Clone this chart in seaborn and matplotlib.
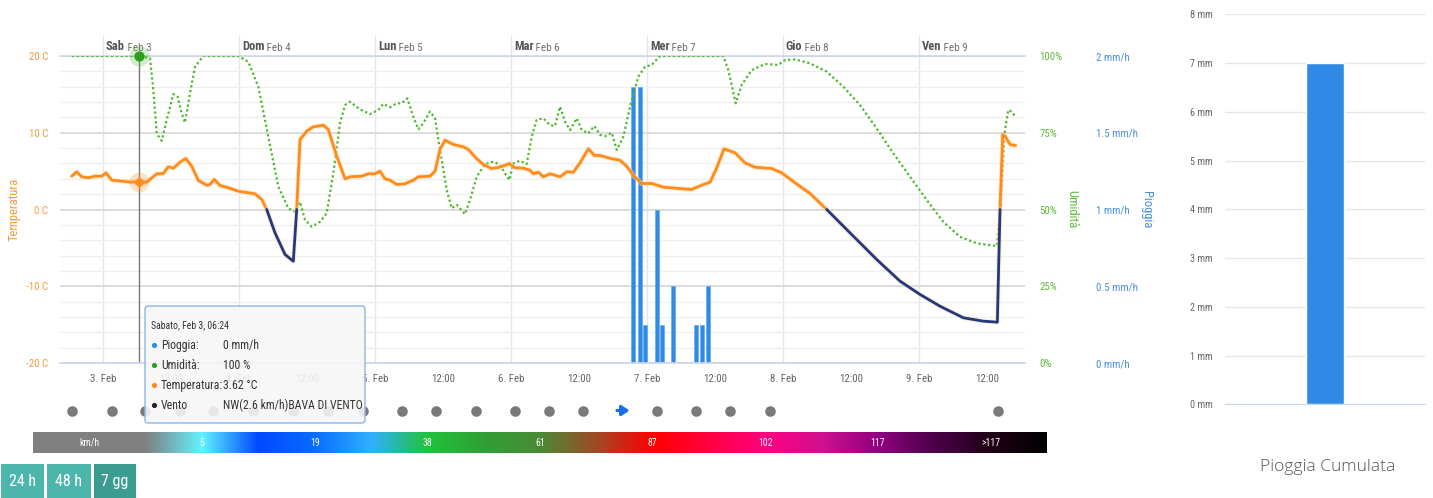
import matplotlib

matplotlib.use("Agg")

import matplotlib.pyplot as plt
import matplotlib.patheffects as pe
import numpy as np
import pandas as pd
import seaborn as sns
from matplotlib import font_manager
from matplotlib.colors import LinearSegmentedColormap
from matplotlib.patches import FancyBboxPatch, Rectangle
from matplotlib.ticker import MultipleLocator


# ore trascorse da Sabato 3 Feb 00:00
temp_ore = [
    -5.52, -4.64, -3.76, -2.59, -1.41, -0.23, 0.53, 1.54, 3.30, 5.06, 6.40,
    7.71, 9.48, 10.64, 11.52, 12.41, 13.59, 14.59, 15.65, 16.82, 18.30, 18.88,
    19.64, 20.65, 22.11, 23.88, 25.64, 26.82, 28.01, 28.89, 30.35, 32.12,
    33.58, 34.18, 34.76, 35.95, 37.11, 38.88, 39.76, 41.24, 42.71, 43.59,
    45.65, 46.82, 48.00, 48.88, 49.76, 50.65, 51.83, 53.29, 54.76, 55.64,
    57.70, 58.59, 59.47, 60.35, 61.82, 63.58, 64.46, 65.95, 67.11, 68.59,
    70.06, 71.70, 72.71, 74.17, 75.35, 75.94, 76.82, 77.70, 78.88, 80.65,
    81.83, 82.99, 84.18, 85.64, 86.70, 87.71, 89.77, 91.23, 92.42, 93.58,
    95.06, 96.83, 98.88, 101.52, 103.89, 105.65, 107.12, 108.30, 109.59,
    111.53, 113.29, 115.06, 118.00, 119.77, 122.12, 124.77, 127.71, 131.82,
    136.53, 140.65, 144.18, 147.70, 151.82, 155.35, 157.82, 158.29, 158.77,
    159.17, 160.06, 161.06,
]
temp_c = [
    4.34, 4.91, 4.26, 4.13, 4.34, 4.34, 4.78, 3.82, 3.69, 3.56, 3.62,
    3.56, 4.65, 4.69, 5.56, 5.38, 6.16, 6.64, 5.64, 3.78, 3.17, 3.26,
    3.91, 3.13, 2.83, 2.38, 2.18, 2.05, 1.30, 0.0, -3.04, -5.86,
    -6.74, 0.0, 9.12, 10.20, 10.78, 10.98, 10.42, 6.94, 4.00, 4.26,
    4.34, 4.65, 4.65, 4.99, 4.00, 3.82, 3.26, 3.35, 3.82, 4.26,
    4.34, 4.99, 7.82, 9.03, 8.47, 8.17, 7.82, 6.61, 5.86, 5.34,
    5.51, 5.99, 5.43, 5.38, 5.12, 4.65, 4.86, 4.26, 4.65, 4.26,
    4.91, 4.86, 6.08, 7.91, 7.04, 7.04, 6.61, 6.42, 5.64, 4.43,
    3.39, 3.39, 2.91, 2.74, 2.61, 3.17, 3.56, 5.43, 7.91,
    7.39, 6.08, 5.51, 5.34, 4.78, 3.48, 2.08, 0.0, -3.04,
    -6.51, -9.34, -11.07, -12.60, -14.11, -14.55, -14.68, 0.0, 9.77,
    9.55, 8.47, 8.34,
]

umid_ore = [
    -5.52, 6.23, 8.29, 8.88, 9.48, 10.36, 11.24, 12.41, 13.18, 13.89, 14.47,
    15.35, 16.24, 17.70, 23.88, 25.64, 27.41, 29.17, 30.94, 32.70, 33.88,
    34.76, 35.65, 36.83, 38.29, 39.48, 40.64, 41.82, 42.71, 43.59, 45.35,
    47.12, 48.58, 49.46, 50.65, 51.83, 52.71, 53.70, 54.76, 55.64, 56.52,
    57.70, 58.59, 59.47, 60.65, 61.53, 62.42, 63.88, 64.76, 65.95, 67.41,
    68.88, 70.06, 70.94, 71.70, 72.41, 73.59, 74.76, 75.65, 76.53, 77.70,
    78.88, 79.76, 80.65, 81.53, 82.41, 83.59, 84.48, 85.64, 86.70, 87.71,
    88.59, 89.77, 90.65, 91.82, 93.00, 94.47, 95.65, 96.83, 98.29, 109.47,
    110.35, 111.65, 112.71, 114.47, 116.82, 119.17, 120.35, 122.12, 124.77,
    127.71, 130.64, 133.58, 136.53, 139.46, 142.41, 145.35, 148.28, 151.23,
    154.18, 157.71, 158.29, 159.17, 159.76, 160.36, 161.06,
]
umid_pct = [
    100, 100, 99.3, 88.9, 74.8, 72.4, 79.2, 87.6, 86.7, 81.3, 78.3,
    87.9, 96.5, 100, 100, 98.1, 90.0, 73.7, 57.4, 50.4, 49.3,
    52.5, 46.6, 44.4, 46.0, 48.8, 61.8, 78.1, 84.0, 85.1, 82.6,
    81.1, 82.4, 84.4, 83.3, 84.6, 84.6, 86.2, 80.2, 76.1, 78.1,
    81.9, 79.7, 69.4, 56.4, 50.4, 51.5, 48.5, 53.1, 60.7, 64.8,
    65.6, 64.5, 61.8, 59.6, 65.0, 65.9, 64.8, 73.7, 79.2, 79.7,
    77.5, 77.2, 83.5, 78.6, 75.9, 79.7, 75.9, 74.8, 77.2, 74.3,
    73.9, 75.0, 69.4, 73.7, 83.5, 93.3, 96.5, 97.1, 100, 100,
    95.4, 84.6, 90.6, 95.4, 97.4, 97.1, 98.7, 98.9, 97.6,
    94.9, 90.0, 84.0, 76.4, 68.3, 60.7, 53.1, 46.0, 41.1,
    39.0, 38.1, 48.8, 75.9, 82.4, 81.9, 80.0,
]

pioggia_ore = [93.6, 94.7, 95.6, 97.8, 98.6, 100.6, 104.6, 105.7, 106.7]
pioggia_mmh = [1.8, 1.8, 0.25, 1.0, 0.25, 0.5, 0.25, 0.25, 0.5]

vento_ore = [
    -5.5, 1.5, 7.4, 13.6, 19.4, 26.5, 33.5, 39.7, 45.9, 52.7, 58.7,
    65.8, 72.7, 78.7, 84.7, 91.8, 97.7, 104.7, 110.7, 117.7, 157.9,
]
vento_dir = [
    "calma", "calma", "calma", "calma", "calma", "calma", "calma", "calma",
    "calma", "calma", "calma", "calma", "calma", "calma", "calma", "W",
    "calma", "calma", "calma", "calma", "calma",
]

giorni_ore = [0, 24, 48, 72, 96, 120, 144]
giorni_nome = ["Sab", "Dom", "Lun", "Mar", "Mer", "Gio", "Ven"]
giorni_data = ["Feb 3", "Feb 4", "Feb 5", "Feb 6", "Feb 7", "Feb 8", "Feb 9"]
giorni_basso = ["3. Feb", "4. Feb", "5. Feb", "6. Feb", "7. Feb", "8. Feb", "9. Feb"]
mezzogiorni_ore = [12, 36, 60, 84, 108, 132, 156]

temp_ticks = [-20, -10, 0, 10, 20]
umid_ticks = [0, 25, 50, 75, 100]
pioggia_ticks = [0, 0.5, 1, 1.5, 2]

scala_vento = ["km/h", "5", "19", "38", "61", "87", "102", "117", ">117"]
scala_pos = [0, 1.0, 1.5, 2.0, 2.5, 3.0, 3.5, 4.0, 4.5, 5.0, 5.5, 6.0, 6.5, 7.0, 7.5, 8.0, 8.5, 9.0]
scala_colori = [
    "#808080", "#808080", "#62f2ff", "#0048ff", "#0a6cff", "#30b0ff",
    "#20c23c", "#30a035", "#4a8a35", "#a04a25", "#ff0000", "#ff0040",
    "#ff0080", "#d01090", "#900080", "#4c004a", "#200015", "#000000",
]

cumulata_cat = ["Pioggia"]
cumulata_mm = [7]
cumulata_ticks = [0, 1, 2, 3, 4, 5, 6, 7, 8]

pulsanti = ["24 h", "48 h", "7 gg"]

tip_ora = 6.4
tip_titolo = "Sabato, Feb 3, 06:24"
tip_pioggia = 0
tip_umid = 100
tip_temp = 3.62
tip_vento = "NW(2.6 km/h)BAVA DI VENTO"

FIG_W, FIG_H = 1433, 498
ORANGE = "#ff8c1a"
ORANGE_TXT = "#f39a3c"
NAVY = "#1f3b7d"
GREEN = "#4cb82a"
GREEN_TXT = "#5fb83a"
BLUE = "#2f8ae6"
BLUE_TXT = "#4a8fe0"
AXIS = "#ccd6eb"
DAY_LINE = "#e4e6ee"


def pick_font(names):
    for name in names:
        try:
            font_manager.findfont(
                font_manager.FontProperties(family=name),
                fallback_to_default=False,
            )
            return name
        except ValueError:
            continue
    return "DejaVu Sans"


def px_rect(left, top, right, bottom):
    """Figure rectangle from pixel edges measured on the screenshot."""
    return [
        left / FIG_W,
        1 - bottom / FIG_H,
        (right - left) / FIG_W,
        (bottom - top) / FIG_H,
    ]


def split_zones(ore, valori):
    """Split the temperature line into runs above and below 0 C."""
    rows = []
    tratto = 0
    for i, (h, v) in enumerate(zip(ore, valori)):
        if v == 0 and 0 < i < len(ore) - 1:
            zona = "sopra" if valori[i - 1] > 0 else "sotto"
            rows.append((h, v, tratto, zona))
            tratto += 1
            zona = "sopra" if valori[i + 1] > 0 else "sotto"
            rows.append((h, v, tratto, zona))
        else:
            rows.append((h, v, tratto, "sopra" if v >= 0 else "sotto"))
    return pd.DataFrame(rows, columns=["ore", "gradi", "tratto", "zona"])


sns.set_style("white")
NARROW = pick_font(["Liberation Sans Narrow", "Roboto Condensed", "DejaVu Sans"])
plt.rcParams["font.family"] = [NARROW, "DejaVu Sans"]

fig = plt.figure(figsize=(FIG_W / 100, FIG_H / 100), dpi=100)

X_MIN, X_MAX = -7.59, 162.7

# --- main chart: rain (host, grid), humidity, temperature ---
ax_r = fig.add_axes(px_rect(60, 56, 1025, 363))
ax_h = ax_r.twinx()
ax_t = ax_r.twinx()
ax_r.set_zorder(1)
ax_h.set_zorder(2)
ax_t.set_zorder(3)
ax_h.patch.set_visible(False)
ax_t.patch.set_visible(False)
ax_r.xaxis.set_visible(True)

ax_r.bar(pioggia_ore, pioggia_mmh, width=0.7, color=BLUE,
         edgecolor="#5aa5ee", linewidth=0.4, zorder=2)
ax_r.axvline(tip_ora, color="#777777", lw=1, zorder=1.5)

ax_r.set_xlim(X_MIN, X_MAX)
ax_r.set_ylim(0, 2)
ax_r.set_xticks(giorni_ore)
ax_r.set_xticklabels(giorni_basso)
ax_r.set_xticks(mezzogiorni_ore, minor=True)
ax_r.set_xticklabels(["12:00"] * len(mezzogiorni_ore), minor=True)
ax_r.tick_params(axis="x", which="both", length=3.6, color=AXIS,
                 labelsize=7.8, labelcolor="#666666", pad=4)
ax_r.yaxis.tick_right()
ax_r.set_yticks(pioggia_ticks)
ax_r.set_yticklabels([f"{v:g} mm/h" for v in pioggia_ticks])
ax_r.yaxis.set_minor_locator(MultipleLocator(0.1))
ax_r.tick_params(axis="y", which="both", length=0, labelsize=7.8,
                 labelcolor=BLUE_TXT, pad=51)
ax_r.set_axisbelow(True)
ax_r.grid(axis="x", which="major", color=DAY_LINE, lw=1)
ax_r.grid(axis="y", which="major", color="#dcdcdc", lw=1.4)
ax_r.grid(axis="y", which="minor", color="#efefef", lw=0.9)
for side in ["left", "right"]:
    ax_r.spines[side].set_visible(False)
for side in ["top", "bottom"]:
    ax_r.spines[side].set_color(AXIS)
    ax_r.spines[side].set_linewidth(1.2)

# day lines run up past the top border, with the day names beside them
ax_top = ax_r.secondary_xaxis("top")
ax_top.set_xticks(giorni_ore)
ax_top.set_xticklabels([])
ax_top.tick_params(axis="x", length=15, width=1, color=DAY_LINE)
ax_top.spines["top"].set_visible(False)

for nome, data, ora in zip(giorni_nome, giorni_data, giorni_ore):
    t1 = ax_r.annotate(nome, xy=(ora, 1), xycoords=("data", "axes fraction"),
                       xytext=(2, 2.5), textcoords="offset points",
                       ha="left", va="bottom", fontsize=9, fontweight="bold",
                       color="#555555")
    ax_r.annotate(" " + data, xy=(1, 0), xycoords=t1, ha="left", va="bottom",
                  fontsize=8, color="#707070")

sns.lineplot(x=umid_ore, y=umid_pct, color=GREEN, lw=1.6,
             linestyle=(0, (1, 1.2)), ax=ax_h)
ax_h.scatter([tip_ora], [tip_umid], s=210, color=GREEN, alpha=0.25,
             lw=0, clip_on=False, zorder=4)
ax_h.scatter([tip_ora], [tip_umid], s=55, color="#2ca01c", lw=0,
             clip_on=False, zorder=5)
ax_h.set_ylim(0, 100)
ax_h.set_yticks(umid_ticks)
ax_h.set_yticklabels([f"{v}%" for v in umid_ticks])
ax_h.tick_params(axis="y", length=0, labelsize=7.8, labelcolor=GREEN_TXT,
                 pad=10.5)
ax_h.set_ylabel("")

temp_df = split_zones(temp_ore, temp_c)
sns.lineplot(data=temp_df, x="ore", y="gradi", hue="zona", units="tratto",
             estimator=None, sort=False, legend=False, lw=2,
             palette={"sopra": ORANGE, "sotto": NAVY}, ax=ax_t,
             path_effects=[pe.Stroke(linewidth=3.6, foreground="#ffd9b0",
                                     alpha=0.5), pe.Normal()])
ax_t.scatter([tip_ora], [tip_temp], s=210, color=ORANGE, alpha=0.25,
             lw=0, zorder=4)
ax_t.scatter([tip_ora], [tip_temp], s=32, marker="D", color=ORANGE, lw=0,
             zorder=5)
ax_t.set_ylim(-20, 20)
ax_t.yaxis.tick_left()
ax_t.set_yticks(temp_ticks)
ax_t.set_yticklabels([f"{v} C" for v in temp_ticks])
ax_t.tick_params(axis="y", length=0, labelsize=7.8, labelcolor=ORANGE_TXT,
                 pad=8.6)
ax_t.set_xlabel("")
ax_t.set_ylabel("")

for a in (ax_h, ax_t):
    for spine in a.spines.values():
        spine.set_visible(False)

ax_t.text(-0.0477, 0.5, "Temperatura", transform=ax_t.transAxes, rotation=90,
          ha="center", va="center", fontsize=9, color=ORANGE_TXT)
ax_t.text(1.0487, 0.5, "Umidità", transform=ax_t.transAxes, rotation=270,
          ha="center", va="center", fontsize=9, color=GREEN_TXT)
ax_t.text(1.1264, 0.5, "Pioggia", transform=ax_t.transAxes, rotation=270,
          ha="center", va="center", fontsize=9, color=BLUE_TXT)

# --- wind row ---
ax_w = fig.add_axes(px_rect(60, 400, 1025, 421), sharex=ax_r)
vento = pd.DataFrame({"ore": vento_ore, "dir": vento_dir})
calma = vento[vento["dir"] == "calma"]
sns.scatterplot(x=calma["ore"], y=np.zeros(len(calma)), color="#7a7a7a",
                s=58, lw=0, ax=ax_w)
for ora in vento.loc[vento["dir"] == "W", "ore"]:
    ax_w.annotate("", xy=(ora + 1.6, 0), xytext=(ora - 1.6, 0),
                  arrowprops=dict(arrowstyle="-|>,head_length=0.45,head_width=0.3",
                                  color="#1a6fe8", lw=2.2))
ax_w.set_ylim(-1, 1)
ax_w.axis("off")

# --- wind speed colour scale ---
ax_cb = fig.add_axes(px_rect(33, 432, 1047, 453))
cmap = LinearSegmentedColormap.from_list(
    "vento", list(zip(np.array(scala_pos) / 9, scala_colori)), N=2048
)
ax_cb.imshow(np.linspace(0, 1, 2048)[None, :], aspect="auto", cmap=cmap,
             extent=[0, 9, 0, 1], interpolation="bilinear")
for i, etichetta in enumerate(scala_vento):
    ax_cb.text(i + 0.5, 0.5, etichetta, ha="center", va="center",
               fontsize=7, color="white")
ax_cb.set_xlim(0, 9)
ax_cb.axis("off")

# --- cumulative rain ---
ax_c = fig.add_axes(px_rect(1225, 14.3, 1425, 404.3))
sns.barplot(x=cumulata_cat, y=cumulata_mm, color=BLUE, saturation=1,
            width=0.19, ax=ax_c)
ax_c.set_xlim(-0.5, 0.5)
ax_c.set_ylim(0, 8)
ax_c.set_yticks(cumulata_ticks)
ax_c.set_yticklabels([f"{v} mm" for v in cumulata_ticks])
ax_c.tick_params(axis="y", length=0, labelsize=7.3, labelcolor="#666666", pad=8.6)
ax_c.set_xticks([0])
ax_c.set_xticklabels([""])
ax_c.tick_params(axis="x", length=5, color=AXIS)
ax_c.set_axisbelow(True)
ax_c.grid(axis="y", color="#e6e6e6", lw=1)
ax_c.set_xlabel("")
ax_c.set_ylabel("")
for side in ["left", "right", "top"]:
    ax_c.spines[side].set_visible(False)
ax_c.spines["bottom"].set_color(AXIS)
fig.text(1328 / FIG_W, 1 - 467 / FIG_H, "Pioggia Cumulata", ha="center",
         va="center", fontsize=12.5, color="#555555", fontweight="light",
         family=["Open Sans", "DejaVu Sans"])

# --- overlay: tooltip and range buttons ---
ax_o = fig.add_axes([0, 0, 1, 1])
ax_o.set_xlim(0, FIG_W)
ax_o.set_ylim(FIG_H, 0)
ax_o.axis("off")
ax_o.set_zorder(10)

ax_o.add_patch(FancyBboxPatch((145, 306), 220, 117,
                              boxstyle="round,pad=0,rounding_size=3",
                              fc=(0.97, 0.97, 0.97, 0.88), ec="#8ab6e8", lw=1))
ax_o.text(151, 325, tip_titolo, fontsize=7, color="#333333", va="center")
righe = [
    ("Pioggia:", f"{tip_pioggia} mm/h", BLUE),
    ("Umidità:", f"{tip_umid} %", "#2ca01c"),
    ("Temperatura:", f"{tip_temp} °C", ORANGE),
    ("Vento", tip_vento, "#222222"),
]
for k, (etichetta, valore, colore) in enumerate(righe):
    y = 345 + 20 * k
    ax_o.scatter([154.5], [y], s=14, color=colore, lw=0)
    ax_o.text(161, y, etichetta, fontsize=8.5, color="#333333", va="center")
    ax_o.text(223, y, valore, fontsize=8.5, color="#333333", va="center")

bottoni = [(1, 44, "#4db6ac"), (47, 91, "#4db6ac"), (94, 136, "#3c9c92")]
for testo, (x0, x1, colore) in zip(pulsanti, bottoni):
    ax_o.add_patch(Rectangle((x0, 464), x1 - x0, 34, color=colore, lw=0))
    ax_o.text((x0 + x1) / 2, 481, testo, ha="center", va="center",
              fontsize=11.5, color="white")

fig.savefig("out.png", dpi=100)
